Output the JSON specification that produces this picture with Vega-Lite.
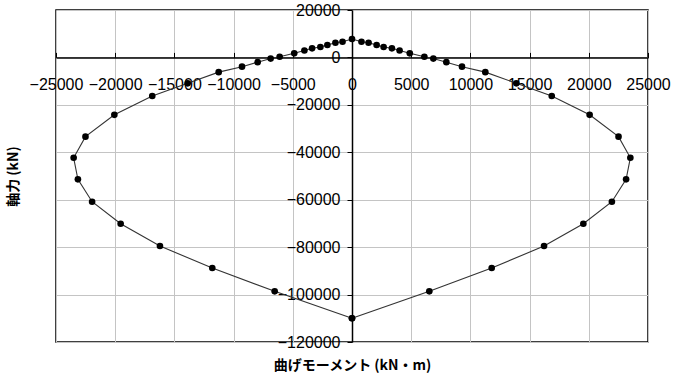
{
  "$schema": "https://vega.github.io/schema/vega-lite/v6.json",
  "width": 592,
  "height": 332,
  "autosize": {"type": "none"},
  "padding": {"left": 56, "top": 10, "right": 28, "bottom": 37},
  "background": "#ffffff",
  "config": {"view": {"stroke": "#000000", "strokeWidth": 1.5}, "font": "Liberation Sans"},
  "data": {
    "values": [
      {"i": 0, "M": 0, "N": -110000},
      {"i": 1, "M": 6530, "N": -98640},
      {"i": 2, "M": 11800, "N": -88800},
      {"i": 3, "M": 16220, "N": -79530},
      {"i": 4, "M": 19540, "N": -70130},
      {"i": 5, "M": 21950, "N": -60850},
      {"i": 6, "M": 23150, "N": -51400},
      {"i": 7, "M": 23510, "N": -42300},
      {"i": 8, "M": 22510, "N": -33400},
      {"i": 9, "M": 20070, "N": -24200},
      {"i": 10, "M": 16870, "N": -16280},
      {"i": 11, "M": 13880, "N": -10920},
      {"i": 12, "M": 11260, "N": -6200},
      {"i": 13, "M": 9290, "N": -3900},
      {"i": 14, "M": 7970, "N": -2000},
      {"i": 15, "M": 6870, "N": -480},
      {"i": 16, "M": 6110, "N": 300},
      {"i": 17, "M": 4880, "N": 1730},
      {"i": 18, "M": 4020, "N": 2900},
      {"i": 19, "M": 3370, "N": 3840},
      {"i": 20, "M": 2670, "N": 4390},
      {"i": 21, "M": 2080, "N": 5230},
      {"i": 22, "M": 1400, "N": 6200},
      {"i": 23, "M": 800, "N": 6600},
      {"i": 24, "M": 0, "N": 7750},
      {"i": 25, "M": -800, "N": 6600},
      {"i": 26, "M": -1400, "N": 6200},
      {"i": 27, "M": -2080, "N": 5230},
      {"i": 28, "M": -2670, "N": 4390},
      {"i": 29, "M": -3370, "N": 3840},
      {"i": 30, "M": -4020, "N": 2900},
      {"i": 31, "M": -4880, "N": 1730},
      {"i": 32, "M": -6110, "N": 300},
      {"i": 33, "M": -6870, "N": -480},
      {"i": 34, "M": -7970, "N": -2000},
      {"i": 35, "M": -9290, "N": -3900},
      {"i": 36, "M": -11260, "N": -6200},
      {"i": 37, "M": -13880, "N": -10920},
      {"i": 38, "M": -16870, "N": -16280},
      {"i": 39, "M": -20070, "N": -24200},
      {"i": 40, "M": -22510, "N": -33400},
      {"i": 41, "M": -23510, "N": -42300},
      {"i": 42, "M": -23150, "N": -51400},
      {"i": 43, "M": -21950, "N": -60850},
      {"i": 44, "M": -19540, "N": -70130},
      {"i": 45, "M": -16220, "N": -79530},
      {"i": 46, "M": -11800, "N": -88800},
      {"i": 47, "M": -6530, "N": -98640},
      {"i": 48, "M": 0, "N": -110000}
    ]
  },
  "layer": [
    {
      "mark": {"type": "line", "color": "#333333", "strokeWidth": 1.1},
      "encoding": {
        "x": {
          "field": "M",
          "type": "quantitative",
          "scale": {"domain": [-25000, 25000], "nice": false, "zero": false},
          "axis": {
            "orient": "bottom",
            "offset": -284.6,
            "values": [-25000, -20000, -15000, -10000, -5000, 0, 5000, 10000, 15000, 20000, 25000],
            "format": "d",
            "grid": true,
            "gridColor": "#c4c4c4",
            "gridWidth": 1,
            "domainColor": "#000000",
            "domainWidth": 1.5,
            "tickColor": "#000000",
            "tickSize": -5,
            "tickWidth": 1,
            "labelFont": "Liberation Sans",
            "labelFontSize": 16,
            "labelColor": "#000000",
            "labelPadding": 24,
            "labelFlush": false,
            "labelOverlap": false,
            "title": "曲げモーメント (kN・m)",
            "titleFont": "Noto Sans CJK JP",
            "titleFontSize": 14,
            "titleFontWeight": "bold",
            "titleColor": "#000000",
            "titleX": 296,
            "titleY": 308,
            "titleAlign": "center",
            "titleBaseline": "middle"
          }
        },
        "y": {
          "field": "N",
          "type": "quantitative",
          "scale": {"domain": [-120000, 20000], "nice": false, "zero": false},
          "axis": {
            "orient": "left",
            "offset": -296,
            "values": [-120000, -100000, -80000, -60000, -40000, -20000, 0, 20000],
            "format": "d",
            "grid": true,
            "gridColor": "#c4c4c4",
            "gridWidth": 1,
            "domainColor": "#000000",
            "domainWidth": 1.5,
            "tickColor": "#000000",
            "tickSize": 5,
            "tickWidth": 1,
            "labelFont": "Liberation Sans",
            "labelFontSize": 16,
            "labelColor": "#000000",
            "labelPadding": 7,
            "labelFlush": false,
            "labelOverlap": false,
            "title": "軸力 (kN)",
            "titleFont": "Noto Sans CJK JP",
            "titleFontSize": 14,
            "titleFontWeight": "bold",
            "titleColor": "#000000",
            "titleX": -339,
            "titleY": 166,
            "titleAngle": -90,
            "titleAlign": "center",
            "titleBaseline": "middle"
          }
        },
        "order": {"field": "i", "type": "quantitative"}
      }
    },
    {
      "mark": {"type": "point", "filled": true, "color": "#000000", "size": 44, "opacity": 1},
      "encoding": {
        "x": {"field": "M", "type": "quantitative"},
        "y": {"field": "N", "type": "quantitative"}
      }
    }
  ]
}
